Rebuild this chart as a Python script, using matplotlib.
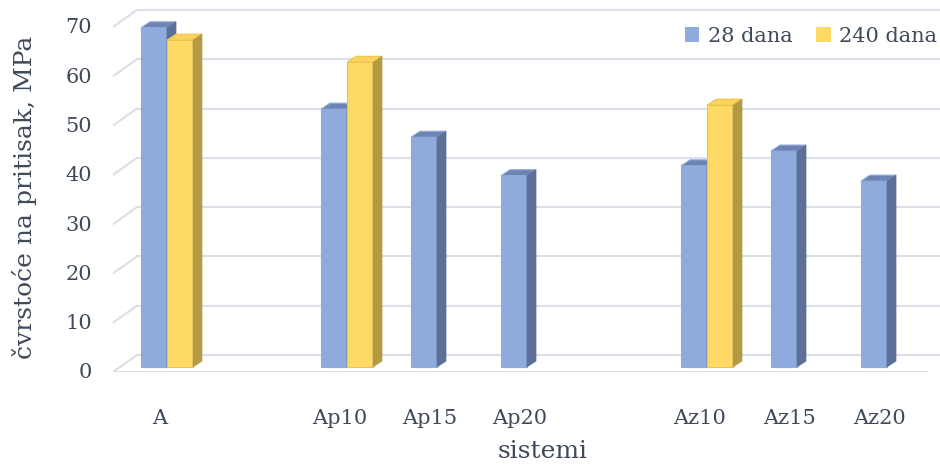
import matplotlib.pyplot as plt
from matplotlib.patches import Polygon, Patch

categories = ["A", "", "Ap10", "Ap15", "Ap20", "", "Az10", "Az15", "Az20"]
dana_28 = [68.8, None, 52.3, 46.6, 38.8, None, 40.8, 43.8, 37.7]
dana_240 = [66.3, None, 61.8, None, None, None, 53.1, None, None]
series_names = ["28 dana", "240 dana"]
yticks = [0, 10, 20, 30, 40, 50, 60, 70]

# pixel geometry of the pseudo-3D Excel chart
W, H = 940, 467
PX_CAT = 90.0      # px between categories
PX_UNIT = 4.93     # px per MPa
X0_PX, LEFT_PX, BOTTOM_PX = 160, 113, 372
xu, yu = 1 / PX_CAT, 1 / PX_UNIT

wall_dx, wall_dy = 24 * xu, 17 * yu     # floor / back wall depth
bar_dx, bar_dy = 9 * xu, 6 * yu         # bar depth
bar_base = 5 * yu                       # bars sit a bit behind the front edge
bar_w = 26 * xu
bar_shift = 7 * xu

TEXT = "#3e4a5a"
GRID = "#dcdfe7"
plt.rcParams["font.family"] = ["DejaVu Serif"]

fig = plt.figure(figsize=(W / 100, H / 100), dpi=100)
ax = fig.add_axes([LEFT_PX / W, (H - BOTTOM_PX) / H, (W - LEFT_PX) / W, BOTTOM_PX / H])
x_left = (LEFT_PX - X0_PX) * xu
x_right = (W - X0_PX) * xu
x_front_end = (927 - X0_PX) * xu
ax.set_xlim(x_left, x_right)
ax.set_ylim(0, BOTTOM_PX * yu)
ax.axis("off")

# back wall gridlines + left diagonals
for v in yticks:
    ax.plot([x_left + wall_dx, x_right + wall_dx + 0.5], [v + wall_dy] * 2,
            color=GRID, lw=1.5, zorder=1, clip_on=False)
    ax.plot([x_left, x_left + wall_dx], [v, v + wall_dy], color=GRID, lw=1.5, zorder=1)
ax.plot([x_left, x_front_end], [0, 0], color=GRID, lw=1.5, zorder=1)

# tick labels at the front edge
for v in yticks:
    ax.text(x_left - 21 * xu, v - 1 * yu, str(v), ha="right", va="center",
            fontsize=15, color=TEXT)
for i, c in enumerate(categories):
    if c:
        ax.text(i, -47 * yu, c, ha="center", va="center", fontsize=15, color=TEXT)

colors = [
    ("#8faadc", "#6d84b3", "#5b6f97", "#8faadc"),
    ("#ffd966", "#fbd35c", "#b39a45", "#ecc54c"),
]

z = 2
for i in range(len(categories)):
    for s, vals in enumerate([dana_28, dana_240]):
        h = vals[i]
        if h is None:
            continue
        front, top, side, edge = colors[s]
        x0 = i + bar_shift - bar_w + s * bar_w
        b = bar_base
        ax.bar(x0, h, width=bar_w, bottom=b, align="edge", color=front,
               edgecolor=edge, lw=0.8, zorder=z)
        ax.add_patch(Polygon([(x0, b + h), (x0 + bar_w, b + h),
                              (x0 + bar_w + bar_dx, b + h + bar_dy), (x0 + bar_dx, b + h + bar_dy)],
                             closed=True, facecolor=top, edgecolor=edge, lw=0.8, zorder=z))
        ax.add_patch(Polygon([(x0 + bar_w, b), (x0 + bar_w + bar_dx, b + bar_dy),
                              (x0 + bar_w + bar_dx, b + h + bar_dy), (x0 + bar_w, b + h)],
                             closed=True, facecolor=side, edgecolor=side, lw=0.5, zorder=z))
        z += 1

handles = [Patch(facecolor=colors[k][0], edgecolor="none") for k in range(2)]
fig.legend(handles, series_names, loc="center right", bbox_to_anchor=(937 / W, 1 - 36 / H),
           ncol=2, frameon=False, fontsize=15, handlelength=0.7, handleheight=0.7,
           handletextpad=0.4, columnspacing=1.15, borderpad=0, borderaxespad=0,
           labelcolor=TEXT)

fig.text(25 / W, 1 - 197 / H, "čvrstoće na pritisak, MPa", rotation=90, ha="center",
         va="center", fontsize=18, color=TEXT)
fig.text(543 / W, 1 - 452 / H, "sistemi", ha="center", va="center", fontsize=18, color=TEXT)

fig.savefig("out.png", dpi=100)
